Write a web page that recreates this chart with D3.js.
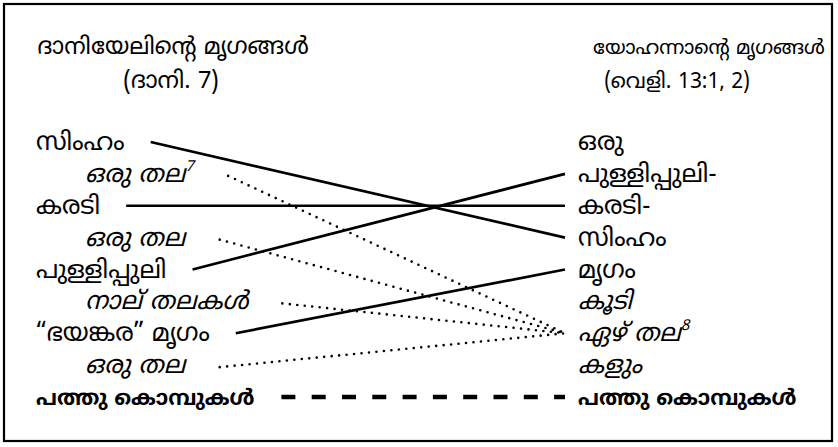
<!DOCTYPE html>
<html><head><meta charset="utf-8">
<script src="https://cdn.jsdelivr.net/npm/d3@7"></script>
<style>
body{margin:0;background:#fff}
text{font-family:"Noto Sans Malayalam","Manjari","Noto Sans",sans-serif;fill:#000}
</style></head><body>
<svg id="c" width="838" height="447"></svg>
<script>
// ---- data ----
const leftTitle = ["ദാനിയേലിന്റെ മൃഗങ്ങൾ", "(ദാനി. 7)"];
const rightTitle = ["യോഹന്നാന്റെ മൃഗങ്ങൾ", "(വെളി. 13:1, 2)"];
const leftLabels = ["സിംഹം","ഒരു തല","കരടി","ഒരു തല","പുള്ളിപ്പുലി","നാല് തലകൾ","“ഭയങ്കര” മൃഗം","ഒരു തല","പത്തു കൊമ്പുകൾ"];
const leftStyles = ["regular","italic","regular","italic","regular","italic","regular","italic","bold"];
const leftNotes  = ["","7","","","","","","",""];
const rightLabels = ["ഒരു","പുള്ളിപ്പുലി-","കരടി-","സിംഹം","മൃഗം","കൂടി","ഏഴ് തല","കളും","പത്തു കൊമ്പുകൾ"];
const rightStyles = ["regular","regular","regular","regular","regular","italic","italic","italic","bold"];
const rightNotes  = ["","","","","","","8","",""];
const linkFrom = [0, 2, 4, 6, 1, 3, 5, 7, 8];
const linkTo   = [3, 2, 1, 4, 6, 6, 6, 6, 8];
const linkType = ["solid","solid","solid","solid","dotted","dotted","dotted","dotted","dashed"];

// ---- layout ----
const svg = d3.select("#c");
svg.append("rect").attr("x",4).attr("y",4).attr("width",828).attr("height",437)
  .attr("fill","none").attr("stroke","#000").attr("stroke-width",2.2);

const y = d3.scaleLinear().domain([0, 8]).range([150, 405]);
const xCol = d3.scaleOrdinal().domain(["leftMain","leftSub","right"]).range([36, 85, 578]);
const FS = 25, FSB = 21.5, FST = 23.5;

function fitText(sel, maxW){
  const w = sel.node().getComputedTextLength();
  if(w > maxW) sel.attr("font-size", FST * maxW / w);
}
function titleBlock(lines, cx, cx2, maxW){
  const g = svg.append("g");
  const t1 = g.append("text").attr("x",cx).attr("y",54).attr("text-anchor","middle").attr("font-size",FST).text(lines[0]);
  fitText(t1, maxW);
  const t2 = g.append("text").attr("x",cx2).attr("y",88).attr("text-anchor","middle").attr("font-size",FST).text(lines[1]);
  fitText(t2, 145);
}
titleBlock(leftTitle, 173, 171, 280);
titleBlock(rightTitle, 709, 677, 232);

function label(txt, style, note, x, yy){
  const t = svg.append("text").attr("x",x).attr("y",yy)
    .attr("font-size", style==="bold"?FSB:FS)
    .attr("font-style", style==="italic"?"italic":"normal")
    .attr("font-weight", style==="bold"?"bold":"normal");
  t.append("tspan").text(txt);
  if(note) t.append("tspan").attr("font-size",15).attr("dy",-11).text(note);
  return t;
}
const leftNodes = leftLabels.map((s,i)=>label(s, leftStyles[i], leftNotes[i],
   xCol(leftStyles[i]==="italic"?"leftSub":"leftMain"), y(i)));
rightLabels.forEach((s,i)=>label(s, rightStyles[i], rightNotes[i], xCol("right"), y(i)));

const gapFor = {solid:26, dotted:32, dashed:27};
const endX = xCol("right") - 13;
linkFrom.forEach((f,k)=>{
  const type = linkType[k];
  const bb = leftNodes[f].node().getBBox();
  const x1 = bb.x + bb.width + gapFor[type];
  const off = leftStyles[f]==="italic" ? 6 : 8;
  const line = svg.append("line")
    .attr("x1",x1).attr("y1",y(f)-off)
    .attr("x2",endX).attr("y2",y(linkTo[k])-8)
    .attr("stroke","#000");
  if(type==="solid") line.attr("stroke-width",2.7);
  if(type==="dotted") line.attr("stroke-width",2.6).attr("stroke-linecap","round").attr("stroke-dasharray","0 7.5");
  if(type==="dashed") line.attr("stroke-width",4.5).attr("stroke-dasharray","14 16.3");
});
</script>
</body></html>
